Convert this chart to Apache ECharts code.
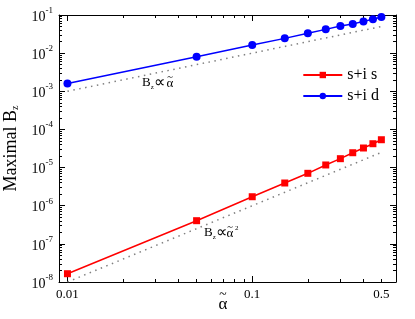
<!DOCTYPE html>
<html><head><meta charset="utf-8">
<script src="https://cdn.jsdelivr.net/npm/echarts@6/dist/echarts.min.js"></script>
<style>html,body{margin:0;padding:0;background:#fff}#c{width:415px;height:319px}</style>
</head><body><div id="c"></div>
<script>
var alphaVals = [0.01, 0.05, 0.1, 0.15, 0.2, 0.25, 0.3, 0.35, 0.4, 0.45, 0.5];
var sisVals = [1.65e-8, 4.05e-7, 1.72e-6, 3.94e-6, 7.07e-6, 1.17e-5, 1.71e-5, 2.45e-5, 3.26e-5, 4.22e-5, 5.37e-5];
var sidVals = [1.6e-3, 8.07e-3, 1.63e-2, 2.44e-2, 3.31e-2, 4.2e-2, 5.15e-2, 5.8e-2, 6.8e-2, 7.7e-2, 8.87e-2];
var guideAlpha = [0.01, 0.5];
var guideLinear = [1e-3, 5e-2];
var guideQuad = [1e-8, 2.5e-5];
var xMajorTicks = [0.01, 0.1];
var xMinorTicks = [0.02,0.03,0.04,0.05,0.06,0.07,0.08,0.09,0.2,0.3,0.4,0.5];
var xTickLabels = [0.01, 0.1, 0.5];
var yMinorTicks = [];
for (var e = -8; e < -1; e++) for (var m = 2; m <= 9; m++) yMinorTicks.push(m * Math.pow(10, e));

var FONT = '"Liberation Serif", "Times New Roman", serif';
var chart = echarts.init(document.getElementById('c'), null, {renderer: 'canvas'});
function zip(a, b) { return a.map(function (v, i) { return [v, b[i]]; }); }

function xAx(pos, ticks, len, showLine, showLabel) {
  return {
    type: 'log', min: 0.009, max: 0.6, position: pos,
    axisLine: {show: showLine, onZero: false, lineStyle: {color: '#000', width: 1}},
    axisTick: {show: true, inside: true, length: len, customValues: ticks, lineStyle: {color: '#000'}},
    axisLabel: showLabel ? {show: true, customValues: xTickLabels, margin: 6, color: '#000', fontFamily: FONT, fontSize: 13,
      formatter: function (v) { return String(+v.toPrecision(3)); }} : {show: false},
    splitLine: {show: false}, minorTick: {show: false}
  };
}
function yAx(pos, ticks, len, showLine, showLabel) {
  var ax = {
    type: 'log', min: 1e-8, max: 1e-1, position: pos,
    axisLine: {show: showLine, onZero: false, lineStyle: {color: '#000', width: 1}},
    axisTick: {show: true, inside: true, length: len, lineStyle: {color: '#000'}},
    axisLabel: showLabel ? {show: true, margin: 6, color: '#000', fontFamily: FONT,
      formatter: function (v) { var e = Math.round(Math.log10(v)); return '{b|10}{s|' + e + '}'; },
      rich: {b: {fontFamily: FONT, fontSize: 14, lineHeight: 18, color: '#000', verticalAlign: 'bottom'},
             s: {fontFamily: FONT, fontSize: 9, lineHeight: 10, color: '#000', verticalAlign: 'top'}}} : {show: false},
    splitLine: {show: false}, minorTick: {show: false}
  };
  if (ticks) ax.axisTick.customValues = ticks; else ax.interval = 1;
  return ax;
}
function tildeLabel(x, y, size) {
  return [
    {type: 'text', x: x, y: y, style: {text: 'α', fontFamily: FONT, fontSize: size, fill: '#000', align: 'center', verticalAlign: 'middle'}},
    {type: 'text', x: x, y: y - size * 0.55, style: {text: '~', fontFamily: FONT, fontSize: size * 0.8, fill: '#000', align: 'center', verticalAlign: 'middle'}}
  ];
}
var annRich = {z: {fontFamily: FONT, fontSize: 7, lineHeight: 7, verticalAlign: 'bottom'}, p: {fontFamily: FONT, fontSize: 16}};

var graphics = [
  {type: 'text', x: 142, y: 83, style: {text: 'B{z|z}{p|∝}', fontFamily: FONT, fontSize: 13, fill: '#000', verticalAlign: 'middle', rich: annRich}},
  {type: 'text', x: 204, y: 233, style: {text: 'B{z|z}{p|∝}', fontFamily: FONT, fontSize: 13, fill: '#000', verticalAlign: 'middle', rich: annRich}},
  {type: 'text', x: 235, y: 228, style: {text: '2', fontFamily: FONT, fontSize: 7, fill: '#000', verticalAlign: 'middle'}}
].concat(tildeLabel(170, 84, 13), tildeLabel(230, 234, 13), tildeLabel(223, 305, 17));

chart.setOption({
  animation: false,
  backgroundColor: '#fff',
  grid: {left: 59, right: 19, top: 15, bottom: 37, outerBoundsMode: 'none'},
  xAxis: [
    xAx('bottom', xMajorTicks, 6, true, true),
    xAx('bottom', xMinorTicks, 3, false, false),
    xAx('top', xMajorTicks, 6, true, false),
    xAx('top', xMinorTicks, 3, false, false)
  ],
  yAxis: [
    Object.assign(yAx('left', null, 6, true, true), {name: 'Maximal B{z|z}', nameLocation: 'middle', nameGap: 36,
      nameTextStyle: {fontFamily: FONT, fontSize: 18, color: '#000', rich: {z: {fontFamily: FONT, fontSize: 10, lineHeight: 8, verticalAlign: 'bottom'}}}}),
    yAx('left', yMinorTicks, 3, false, false),
    yAx('right', null, 6, true, false),
    yAx('right', yMinorTicks, 3, false, false)
  ],
  legend: {
    right: 36, top: 67, orient: 'vertical', itemWidth: 39, itemHeight: 8, itemGap: 5, padding: 0,
    textStyle: {fontFamily: FONT, fontSize: 16, color: '#000'},
    data: ['s+i s', 's+i d']
  },
  series: [
    {name: 'guide1', type: 'line', data: zip(guideAlpha, guideLinear), showSymbol: false, symbol: 'none',
      lineStyle: {color: '#808080', width: 1.5, type: [1.5, 4.5]}, silent: true, z: 1},
    {name: 'guide2', type: 'line', data: zip(guideAlpha, guideQuad), showSymbol: false, symbol: 'none',
      lineStyle: {color: '#808080', width: 1.5, type: [1.5, 4.5]}, silent: true, z: 1},
    {name: 's+i s', type: 'line', data: zip(alphaVals, sisVals), symbol: 'rect', symbolSize: 7,
      itemStyle: {color: '#ff0000'}, lineStyle: {color: '#ff0000', width: 1.5}, z: 3},
    {name: 's+i d', type: 'line', data: zip(alphaVals, sidVals), symbol: 'circle', symbolSize: 8,
      itemStyle: {color: '#0000ff'}, lineStyle: {color: '#0000ff', width: 1.5}, z: 3}
  ],
  graphic: graphics
});
</script></body></html>
